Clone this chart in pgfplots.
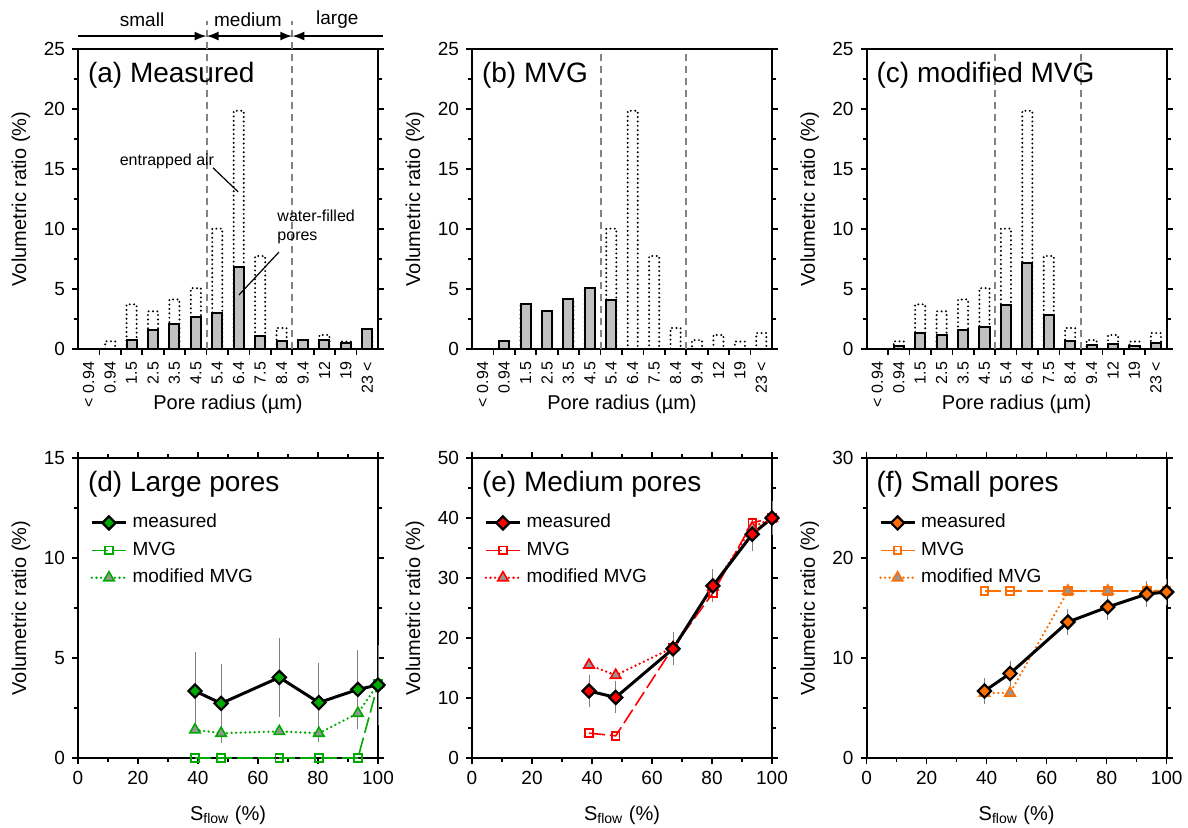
\documentclass[border=0pt]{standalone}
\usepackage{pgfplots}
\usepackage{pgfplotstable}
\pgfplotsset{compat=1.18}
\usepackage{fontspec}
\setmainfont{Liberation Sans}
\usetikzlibrary{arrows.meta}
\definecolor{barfill}{RGB}{192,192,192}
\definecolor{dgreen}{RGB}{0,170,0}
\definecolor{mred}{RGB}{255,0,0}
\definecolor{morange}{RGB}{255,110,0}
\definecolor{trigray}{RGB}{150,150,150}
\definecolor{dashgray}{RGB}{130,130,130}

\pgfdeclareplotmark{rdiamond*}{%
  \pgfpathmoveto{\pgfqpoint{0pt}{\pgfplotmarksize}}%
  \pgfpathlineto{\pgfqpoint{\pgfplotmarksize}{0pt}}%
  \pgfpathlineto{\pgfqpoint{0pt}{-\pgfplotmarksize}}%
  \pgfpathlineto{\pgfqpoint{-\pgfplotmarksize}{0pt}}%
  \pgfpathclose
  \pgfusepathqfillstroke}

\pgfplotstableread{
cat total meas mvg mod
0 nan nan nan nan
1 0.64 nan 0.64 0.28
2 3.72 0.78 3.78 1.33
3 3.14 1.60 3.14 1.14
4 4.13 2.08 4.13 1.60
5 5.07 2.64 5.07 1.80
6 10.03 3.00 4.06 3.64
7 19.85 6.83 nan 7.17
8 7.75 1.10 nan 2.86
9 1.75 0.64 nan 0.69
10 0.74 0.72 nan 0.33
11 1.17 0.72 nan 0.42
12 0.62 0.50 nan 0.22
13 1.33 1.67 nan 0.50
}\poretable

\pgfplotstableread{
x y e
39.0 3.35 1.72
47.7 2.73 1.75
67.1 4.03 1.75
80.3 2.77 1.75
93.3 3.43 1.73
100 3.65 1.75
}\largemeas
\pgfplotstableread{
x mvg mod
39.0 0 1.41
47.7 0 1.24
67.1 0 1.33
80.3 0 1.24
93.3 0 2.24
100 3.7 3.7
}\largemod

\pgfplotstableread{
x y e
39.0 11.16 1.95
47.9 10.1 1.9
67.0 18.2 2.0
80.3 28.7 2.0
93.4 37.3 2.0
100 40.0 2.0
}\medmeas
\pgfplotstableread{
x mvg mod
39.0 4.14 15.5
47.9 3.7 13.8
67.0 18.4 18.4
80.3 27.5 28.5
93.4 39.2 38.4
100 40.0 40.0
}\medmod

\pgfplotstableread{
x y e
39.3 6.7 0.8
47.8 8.45 0.8
67.1 13.6 0.8
80.4 15.1 0.8
93.4 16.4 0.8
100 16.6 0.8
}\smallmeas
\pgfplotstableread{
x mvg mod
39.3 16.7 6.5
47.8 16.7 6.5
67.1 16.7 16.7
80.4 16.7 16.7
93.4 16.7 16.7
100 16.7 16.7
}\smallmod

\pgfplotsset{
  common/.style={
    width=150pt, height=150pt, scale only axis,
    axis line style={line width=1.1pt},
    tick align=outside,
    major tick length=3pt, minor tick length=2pt,
    every tick/.style={black, line width=0.8pt},
    tick label style={font=\fontsize{9.5}{11}\selectfont},
    /pgf/number format/assume math mode=true,
    label style={font=\fontsize{9.5}{11}\selectfont},
    ylabel={Volumetric ratio (\%)},
    every axis y label/.style={at={(axis description cs:-0.19,0.5)}, rotate=90, anchor=center},
    clip=false,
  },
  bars/.style={common, xmin=-0.5, xmax=13.5, ymin=0, ymax=25,
    ytick={0,5,...,25}, minor y tick num=1,
    xtick={0.5,1.5,...,12.5}, xticklabel={\relax}, xtick pos=left,
    extra x ticks={0,...,13},
    extra x tick labels={{< 0.94},0.94,1.5,2.5,3.5,4.5,5.4,6.4,7.5,8.4,9.4,12,19,{23 <}},
    extra x tick style={tick style={draw=none}, ticklabel style={rotate=90, anchor=east, font=\fontsize{8}{9}\selectfont}},
    xlabel={Pore radius (µm)},
    every axis x label/.style={at={(axis description cs:0.5,-0.185)}, anchor=center},
    unbounded coords=discard,
  },
  totbar/.style={ybar, bar width=0.47, bar shift=0pt, draw=black, fill=none, line width=1.1pt, line cap=round, dash pattern=on 0pt off 2.2pt},
  wbar/.style={ybar, bar width=0.47, bar shift=0pt, draw=black, fill=barfill, line width=1pt},
  lines/.style={common, xmin=0, xmax=100, ymin=0, xtick={0,20,...,100}, minor x tick num=1, minor y tick num=1,
    xlabel={S\textsubscript{flow} (\%)},
    every axis x label/.style={at={(axis description cs:0.5,-0.19)}, anchor=center},
    legend style={at={(axis description cs:0.02,0.835)}, anchor=north west, draw=none, fill=none,
      font=\fontsize{9.5}{11}\selectfont, row sep=2.7pt, nodes={inner sep=1pt, text height=7pt, text depth=2pt},
      /tikz/every odd column/.append style={column sep=1.5pt}},
    legend cell align=left,
  },
  measured/.style={black, line width=1.5pt, mark=rdiamond*, mark size=3.3pt, mark options={fill=#1, draw=black, line width=1.1pt, solid}},
  mvg/.style={#1, line width=0.8pt, dash pattern=on 8pt off 2.5pt, mark=square, mark size=1.9pt, mark options={solid, fill=white, line width=0.9pt}},
  modmvg/.style={#1, line width=1.3pt, line cap=round, dash pattern=on 0pt off 2.3pt, mark=triangle*, mark size=3pt, mark options={solid, fill=trigray, draw=#1, line width=0.8pt}},
  errs/.style={error bars/.cd, y dir=both, y explicit, error mark=-, error bar style={gray, line width=0.5pt, solid}, error mark options={gray, line width=0.5pt, mark size=2.3pt, solid}},
}

\begin{document}
\begin{tikzpicture}
\useasboundingbox (0,0) rectangle (594pt,413.5pt);

% (a)
\begin{axis}[bars, at={(39pt,239pt)}, anchor=south west]
\addplot[totbar] table[x=cat, y=total] {\poretable};
\addplot[wbar] table[x=cat, y=meas] {\poretable};
\draw[dashgray, line width=1pt, dash pattern=on 3.5pt off 2.5pt] (axis cs:5.5,0) -- (axis cs:5.5,27.3);
\draw[dashgray, line width=1pt, dash pattern=on 3.5pt off 2.5pt] (axis cs:9.5,0) -- (axis cs:9.5,27.3);
\draw[line width=0.9pt, -{Latex[length=6pt,width=4.5pt]}] (axis cs:-0.5,26.08) -- (axis cs:5.5,26.08);
\draw[line width=0.9pt, {Latex[length=6pt,width=4.5pt]}-{Latex[length=6pt,width=4.5pt]}] (axis cs:5.5,26.08) -- (axis cs:9.5,26.08);
\draw[line width=0.9pt, -{Latex[length=6pt,width=4.5pt]}] (axis cs:13.73,26.08) -- (axis cs:9.5,26.08);
\node[font=\fontsize{9.5}{11}\selectfont] at (axis cs:2.49,27.45) {small};
\node[font=\fontsize{9.5}{11}\selectfont] at (axis cs:7.43,27.45) {medium};
\node[font=\fontsize{9.5}{11}\selectfont] at (axis cs:11.6,27.45) {large};
\node[anchor=west, font=\fontsize{14}{16}\selectfont] at (rel axis cs:0.01,0.913) {(a) Measured};
\node[font=\fontsize{8}{9.5}\selectfont] at (axis cs:3.65,15.67) {entrapped air};
\draw[line width=0.6pt] (axis cs:5.8,15.1) -- (axis cs:6.97,13.1);
\node[anchor=north west, align=left, inner sep=0pt, font=\fontsize{8}{9.5}\selectfont] at (axis cs:8.79,11.6) {water-filled\\pores};
\draw[line width=0.6pt] (axis cs:8.88,8.08) -- (axis cs:7.01,4.5);
\end{axis}

% (b)
\begin{axis}[bars, at={(236pt,239pt)}, anchor=south west]
\addplot[totbar] table[x=cat, y=total] {\poretable};
\addplot[wbar] table[x=cat, y=mvg] {\poretable};
\draw[dashgray, line width=1pt, dash pattern=on 3.5pt off 2.5pt] (axis cs:5.5,0) -- (axis cs:5.5,25);
\draw[dashgray, line width=1pt, dash pattern=on 3.5pt off 2.5pt] (axis cs:9.5,0) -- (axis cs:9.5,25);
\node[anchor=west, font=\fontsize{14}{16}\selectfont] at (rel axis cs:0.01,0.913) {(b) MVG};
\end{axis}

% (c)
\begin{axis}[bars, at={(433.3pt,239pt)}, anchor=south west]
\addplot[totbar] table[x=cat, y=total] {\poretable};
\addplot[wbar] table[x=cat, y=mod] {\poretable};
\draw[dashgray, line width=1pt, dash pattern=on 3.5pt off 2.5pt] (axis cs:5.5,0) -- (axis cs:5.5,25);
\draw[dashgray, line width=1pt, dash pattern=on 3.5pt off 2.5pt] (axis cs:9.5,0) -- (axis cs:9.5,25);
\node[anchor=west, font=\fontsize{14}{16}\selectfont] at (rel axis cs:0.01,0.913) {(c) modified MVG};
\end{axis}

% (d)
\begin{axis}[lines, at={(39pt,34.5pt)}, anchor=south west, ymax=15, ytick={0,5,10,15}]
\addplot[mvg=dgreen, forget plot] table[x=x, y=mvg] {\largemod};
\addplot[modmvg=dgreen, forget plot] table[x=x, y=mod] {\largemod};
\addplot[measured=dgreen, errs] table[x=x, y=y, y error=e] {\largemeas};
\addlegendentry{measured}
\addlegendimage{mvg=dgreen}
\addlegendentry{MVG}
\addlegendimage{modmvg=dgreen}
\addlegendentry{modified MVG}
\node[anchor=west, font=\fontsize{14}{16}\selectfont] at (rel axis cs:0.01,0.913) {(d) Large pores};
\end{axis}

% (e)
\begin{axis}[lines, at={(236pt,34.5pt)}, anchor=south west, ymax=50, ytick={0,10,...,50}]
\addplot[mvg=mred, forget plot] table[x=x, y=mvg] {\medmod};
\addplot[modmvg=mred, forget plot] table[x=x, y=mod] {\medmod};
\addplot[measured=mred, errs] table[x=x, y=y, y error=e] {\medmeas};
\addlegendentry{measured}
\addlegendimage{mvg=mred}
\addlegendentry{MVG}
\addlegendimage{modmvg=mred}
\addlegendentry{modified MVG}
\node[anchor=west, font=\fontsize{14}{16}\selectfont] at (rel axis cs:0.01,0.913) {(e) Medium pores};
\end{axis}

% (f)
\begin{axis}[lines, at={(433.3pt,34.5pt)}, anchor=south west, ymax=30, ytick={0,10,20,30}]
\addplot[mvg=morange, forget plot] table[x=x, y=mvg] {\smallmod};
\addplot[modmvg=morange, forget plot] table[x=x, y=mod] {\smallmod};
\addplot[measured=morange, errs] table[x=x, y=y, y error=e] {\smallmeas};
\addlegendentry{measured}
\addlegendimage{mvg=morange}
\addlegendentry{MVG}
\addlegendimage{modmvg=morange}
\addlegendentry{modified MVG}
\node[anchor=west, font=\fontsize{14}{16}\selectfont] at (rel axis cs:0.01,0.913) {(f) Small pores};
\end{axis}
\end{tikzpicture}
\end{document}
